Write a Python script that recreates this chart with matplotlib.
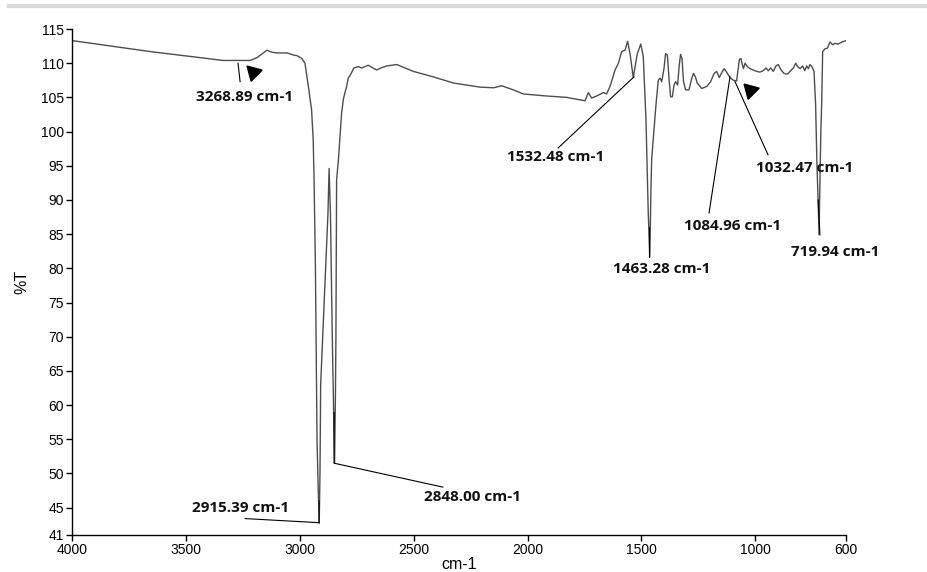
import matplotlib.pyplot as plt
from matplotlib.lines import Line2D

# spectrum (wavenumber cm-1, %T)
wavenumber = [4000, 3658, 3337, 3268.89, 3219, 3189, 3145, 3123, 3101, 3057, 3029, 3013,
              2992, 2978, 2963, 2949, 2942, 2938, 2932, 2928, 2925, 2920, 2915.39, 2912,
              2909, 2877, 2872, 2866, 2858, 2852, 2848.00, 2844, 2842, 2839, 2831, 2824,
              2817, 2809, 2795, 2788, 2780, 2763, 2744, 2729, 2700, 2680, 2663, 2645,
              2619, 2575, 2502, 2414, 2326, 2209, 2150, 2114, 2063, 2019, 1916, 1828,
              1748, 1733, 1719, 1697, 1667, 1653, 1638, 1616, 1601, 1587, 1572, 1561,
              1550, 1536, 1518, 1503, 1492, 1480, 1470, 1463.28, 1458, 1455, 1436, 1426,
              1418, 1411, 1401, 1394, 1386, 1379, 1372, 1364, 1357, 1350, 1341, 1334,
              1328, 1322, 1315, 1306, 1291, 1279, 1271, 1263, 1255, 1235, 1213, 1196,
              1181, 1170, 1158, 1146, 1137, 1126, 1111, 1096, 1082, 1070, 1063, 1060,
              1052, 1045, 1035, 1023, 1008, 994, 979, 965, 953, 943, 932, 921,
              909, 899, 888, 874, 859, 844, 833, 822, 814, 803, 792, 783,
              774, 767, 760, 751, 742, 735, 729, 724, 719.94, 716, 712, 708,
              704, 694, 683, 672, 660, 650, 635, 620, 601]
transmittance = [113.3, 111.7, 110.4, 110.4, 110.4, 110.8, 111.9, 111.6, 111.5, 111.5, 111.2, 111.1,
                 110.7, 110.0, 106.6, 103.2, 99.0, 93.0, 80.0, 66.0, 55.0, 48.0, 42.7, 50.0,
                 63.0, 88.0, 94.6, 88.0, 70.0, 58.9, 51.5, 62.0, 70.0, 92.9, 95.9, 99.3,
                 102.7, 104.8, 106.6, 107.8, 108.2, 109.3, 109.5, 109.3, 109.7, 109.3, 109.0, 109.3,
                 109.6, 109.8, 108.8, 108.0, 107.1, 106.5, 106.4, 106.7, 106.1, 105.5, 105.2, 105.0,
                 104.5, 105.7, 104.9, 105.2, 105.7, 105.5, 106.6, 109.0, 110.0, 111.7, 111.9, 113.2,
                 111.4, 107.9, 111.4, 112.8, 111.0, 101.7, 88.0, 81.7, 92.0, 96.0, 104.0, 107.5,
                 107.8, 107.3, 109.2, 111.4, 111.2, 107.8, 105.1, 105.1, 106.8, 107.3, 106.8, 109.7,
                 111.3, 110.7, 107.3, 106.1, 106.1, 107.8, 108.5, 108.0, 107.1, 106.3, 106.6, 107.3,
                 108.5, 108.8, 107.9, 108.7, 109.2, 108.7, 107.9, 107.5, 107.4, 110.5, 110.7, 110.2,
                 109.2, 110.0, 109.5, 109.2, 109.0, 108.8, 108.7, 108.9, 109.3, 108.9, 109.3, 108.8,
                 109.6, 109.8, 109.1, 108.5, 108.4, 108.9, 109.3, 110.0, 109.5, 109.2, 109.6, 108.9,
                 109.6, 109.2, 109.8, 109.5, 108.8, 104.0, 95.0, 90.0, 84.9, 92.0, 100.0, 104.4,
                 111.7, 112.1, 112.2, 113.1, 112.7, 112.9, 112.8, 113.1, 113.3]

# peak labels: text, leader line (x list, y list), label position
peak_labels = ['3268.89 cm-1', '2915.39 cm-1', '2848.00 cm-1', '1532.48 cm-1',
               '1463.28 cm-1', '1084.96 cm-1', '1032.47 cm-1', '719.94 cm-1']
leader_x = [[3272, 3263], [2916, 2916, 3241], [2850, 2850, 2372], [1866, 1533],
            [1465, 1465], [1203, 1111], [944, 1089], [724, 716]]
leader_y = [[110.0, 107.3], [46.0, 42.8, 43.4], [58.9, 51.5, 48.0], [97.6, 108.0],
            [86.1, 81.7], [88.1, 108.0], [96.6, 107.3], [90.0, 84.9]]
label_x = [3245, 3259, 2240, 1879, 1409, 1098, 785, 650]
label_y = [105.1, 45.0, 46.6, 96.3, 79.9, 86.2, 94.7, 82.4]

cursor_x = [3206, 1024]
cursor_y = [108.7, 106.1]

xticks = [4000, 3500, 3000, 2500, 2000, 1500, 1000, 600]
yticks = [41, 45, 50, 55, 60, 65, 70, 75, 80, 85, 90, 95, 100, 105, 110, 115]

plt.rcParams['font.family'] = ['Liberation Sans', 'DejaVu Sans']

fig = plt.figure(figsize=(9.28, 5.72), dpi=100)
ax = fig.add_axes([0.0779, 0.0647, 0.8341, 0.8846])

ax.plot(wavenumber, transmittance, color='#4d4d4d', lw=1.0)

for lx, ly in zip(leader_x, leader_y):
    ax.plot(lx, ly, color='black', lw=0.8)
for txt, tx, ty in zip(peak_labels, label_x, label_y):
    ax.text(tx, ty, txt, ha='center', va='center', fontsize=11,
            fontweight='bold', family='Open Sans', color='#111111')

ax.plot(cursor_x, cursor_y, ls='none', marker=(3, 0, 45), ms=13, color='black')

ax.set_xlim(4000, 600)
ax.set_ylim(41, 115)
ax.set_xticks(xticks)
ax.set_yticks(yticks)
ax.tick_params(direction='out', length=4, width=1, labelsize=10, pad=2, colors='black')
for s in ['top', 'right']:
    ax.spines[s].set_visible(False)
for s in ['left', 'bottom']:
    ax.spines[s].set_linewidth(1)

ax.set_xlabel('cm-1', fontsize=11.5, labelpad=0)
ax.set_ylabel('%T', fontsize=11.5, labelpad=8)

# gray rule at the top of the page
fig.add_artist(Line2D([0.01, 1.0], [1 - 5.5 / 572, 1 - 5.5 / 572], color='#dadada', lw=3,
                      transform=fig.transFigure))

fig.savefig('out.png', dpi=100)
